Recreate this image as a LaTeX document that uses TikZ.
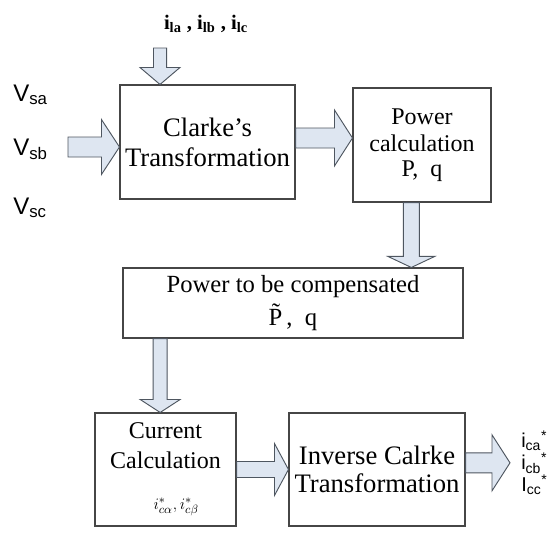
\documentclass[tikz,border=0pt]{standalone}
\usepackage{fontspec}
\setmainfont{Liberation Serif}
\newfontfamily\lblfont{Liberation Sans}
\usetikzlibrary{calc}
\definecolor{boxline}{RGB}{70,70,70}
\definecolor{arrfill}{RGB}{222,230,241}
\definecolor{arrline}{RGB}{78,86,96}

\tikzset{
  blk/.style={draw=boxline, line width=0.8pt, align=center, inner sep=0pt},
  % block arrow: shaft half width, head half width, head length
  fat/.style n args={3}{draw=arrline, fill=arrfill, line width=0.7pt,
    to path={let \p1=(\tikztostart), \p2=(\tikztotarget),
      \n1={atan2(\y2-\y1,\x2-\x1)}, \n2={veclen(\x2-\x1,\y2-\y1)} in
      ([shift={(\p1)},rotate=\n1]0pt,{-#1})
      -- ([shift={(\p1)},rotate=\n1]{\n2-#3},{-#1})
      -- ([shift={(\p1)},rotate=\n1]{\n2-#3},{-#2})
      -- ([shift={(\p1)},rotate=\n1]\n2,0pt)
      -- ([shift={(\p1)},rotate=\n1]{\n2-#3},#2)
      -- ([shift={(\p1)},rotate=\n1]{\n2-#3},#1)
      -- ([shift={(\p1)},rotate=\n1]0pt,#1) -- cycle}},
  vlbl/.style={font=\lblfont\fontsize{18}{20}\selectfont, inner sep=0pt, anchor=west},
}

\begin{document}
\begin{tikzpicture}[x=0.75pt, y=-0.75pt]
\useasboundingbox (0,0) rectangle (551,546);

% boxes
\node[blk, minimum width=131.25pt, minimum height=85.5pt,
  font=\fontsize{20}{22.5}\selectfont] (clarke) at (207.5,142)
  {Clarke's\\Transformation};
\node[blk, minimum width=103.5pt, minimum height=85.5pt,
  font=\fontsize{18}{20.5}\selectfont] (power) at (422,145)
  {Power\\calculation\\[-2pt]P,~~q};
\node[blk, minimum width=255pt, minimum height=52.5pt,
  font=\fontsize{18.5}{25}\selectfont] (comp) at (293,303)
  {Power to be compensated\\\~P\,,~~q};
\node[blk, minimum width=105.75pt, minimum height=84.75pt,
  font=\fontsize{18}{22.5}\selectfont] (current) at (165.5,469.5)
  {Current\\Calculation\\[8pt]\hspace*{16pt}{\fontsize{13}{14}\selectfont$i^*_{c\alpha},i^*_{c\beta}$}};
\node[blk, minimum width=132pt, minimum height=84.75pt,
  font=\fontsize{20}{21}\selectfont] (inverse) at (377,469.5)
  {Inverse Calrke\\Transformation};

% inputs and outputs
\node[font=\bfseries\fontsize{15.5}{17}\selectfont, inner sep=0pt] (iload) at (206,24)
  {i\textsubscript{la}\ ,\ i\textsubscript{lb}\ ,\ i\textsubscript{lc}};
\foreach \n/\y in {sa/95, sb/149, sc/208}
  \node[vlbl] (v\n) at (13,\y) {V\textsubscript{\n}};
\node[vlbl, align=left, font=\lblfont\fontsize{15}{16.5}\selectfont] (iout) at (521,463)
  {i\textsubscript{ca}\textsuperscript{*}\\i\textsubscript{cb}\textsuperscript{*}\\I\textsubscript{cc}\textsuperscript{*}};

\coordinate (iin) at (160,48);
\coordinate (vin) at (68,147);
\coordinate (cp) at ([yshift=3pt]clarke.east);
\coordinate (pc) at ([xshift=-8pt]power.south);
\coordinate (cc) at ([xshift=-4pt]current.north);
\coordinate (ic) at ([yshift=5pt]inverse.east);
\coordinate (oend) at (510,0 |- ic);

% block arrows
\draw[fat={4.9pt}{15pt}{12.75pt}] (iin) to (iin |- clarke.north);
\draw[fat={7.5pt}{20.6pt}{13.5pt}] (vin) to (vin -| clarke.west);
\draw[fat={7.5pt}{21pt}{13.5pt}] (cp) to (cp -| power.west);
\draw[fat={6pt}{17.6pt}{8.3pt}] (pc) to (pc |- comp.north);
\draw[fat={5.25pt}{15pt}{9.75pt}] (cc |- comp.south) to (cc);
\draw[fat={6pt}{19.5pt}{10.5pt}] (current.east) to (inverse.west);
\draw[fat={7.5pt}{21pt}{13.5pt}] (ic) to (oend);

\end{tikzpicture}
\end{document}
